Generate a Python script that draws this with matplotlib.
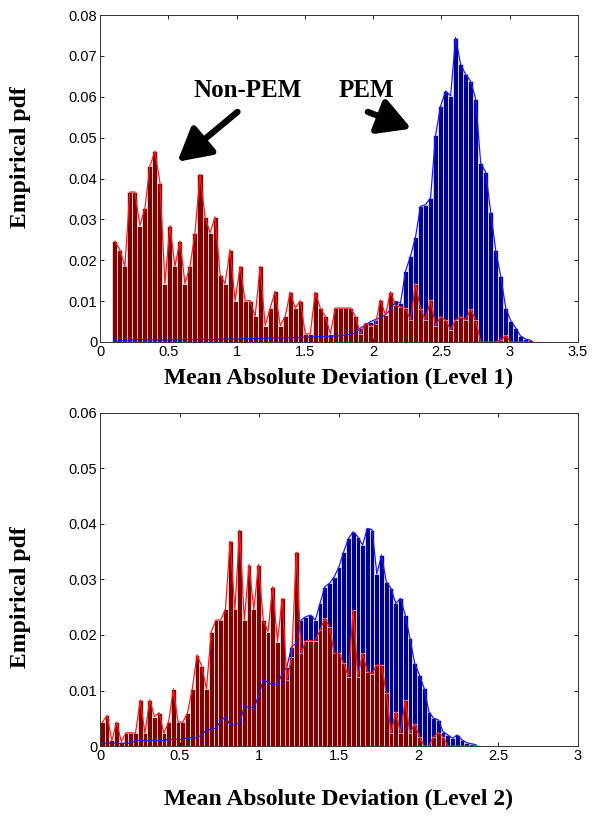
import numpy as np
import matplotlib
matplotlib.use("Agg")
import matplotlib.pyplot as plt

# ---- level 1 histogram (bins of equal width starting at bin1_start) ----
bin1_start = 0.090
bin1_width = 0.0367
nonpem1 = [0.0247, 0.0226, 0.0185, 0.0367, 0.0367, 0.0285, 0.0327, 0.043, 0.0467, 0.039,
           0.0143, 0.0285, 0.0185, 0.0247, 0.0143, 0.0185, 0.0267, 0.041, 0.0306, 0.0267,
           0.0306, 0.0165, 0.0143, 0.0226, 0.0101, 0.0185, 0.0101, 0.0101, 0.0063, 0.0185,
           0.004, 0.0083, 0.0124, 0.004, 0.0063, 0.0122, 0.0083, 0.0101, 0.002, 0.002,
           0.0122, 0.0083, 0.0063, 0.002, 0.0083, 0.0083, 0.0083, 0.0083, 0.0063, 0.002,
           0.0046, 0.0039, 0.0044, 0.0103, 0.0066, 0.0123, 0.009, 0.0086, 0.0084, 0.0053,
           0.0143, 0.008, 0.0054, 0.0103, 0.004, 0.0062, 0.0054, 0.003, 0.0054, 0.0062,
           0.0054, 0.008, 0.0054, 0.0, 0.0, 0.0, 0.0, 0.0005, 0.0016, 0.0,
           0.0, 0.0, 0.0, 0.0]
pem1 = [0.0002, 0.0003, 0.0004, 0.0005, 0.0005, 0.0006, 0.0005, 0.0005, 0.0005, 0.0005,
        0.0005, 0.0005, 0.0005, 0.0005, 0.0005, 0.0006, 0.0006, 0.0006, 0.0006, 0.0006,
        0.0006, 0.0007, 0.0007, 0.0007, 0.0007, 0.0007, 0.0008, 0.0008, 0.0008, 0.0009,
        0.0009, 0.001, 0.001, 0.001, 0.001, 0.001, 0.0011, 0.0011, 0.0012, 0.0012,
        0.0013, 0.0013, 0.0014, 0.0014, 0.0015, 0.0015, 0.0017, 0.0019, 0.0022,
        0.0034, 0.0042, 0.005, 0.0055, 0.0059, 0.0067, 0.0079, 0.01, 0.0095, 0.0173,
        0.021, 0.0257, 0.0332, 0.0336, 0.0353, 0.0506, 0.0577, 0.0614, 0.0602, 0.0745,
        0.0679, 0.0655, 0.0638, 0.0595, 0.0438, 0.0416, 0.0318, 0.0224, 0.0161, 0.0083,
        0.0052, 0.0034, 0.0014, 0.0007, 0.0004]

# ---- level 2 histogram ----
bin2_start = 0.0
bin2_width = 0.0297
nonpem2 = [0.0043, 0.0055, 0.001, 0.0043, 0.0008, 0.0024, 0.0024, 0.0023, 0.0083, 0.0023,
           0.0083, 0.0053, 0.006, 0.0023, 0.0043, 0.0103, 0.0043, 0.0043, 0.006, 0.0103,
           0.0164, 0.0144, 0.0103, 0.0206, 0.0227, 0.0227, 0.0246, 0.0369, 0.0246, 0.0389,
           0.0227, 0.0327, 0.0246, 0.0327, 0.0227, 0.0206, 0.0287, 0.0188, 0.0266, 0.0119,
           0.016, 0.0349, 0.0167, 0.019, 0.019, 0.019, 0.0209, 0.023, 0.0215, 0.0167,
           0.0167, 0.0149, 0.0125, 0.0245, 0.0125, 0.0167, 0.0134, 0.013, 0.0146, 0.0146,
           0.0095, 0.0023, 0.0062, 0.0023, 0.0083, 0.0023, 0.004, 0.0017, 0.0, 0.0,
           0.0017, 0.0024, 0.0017, 0.0, 0.0, 0.0, 0.0, 0.0, 0.0, 0.0]
pem2 = [0.0005, 0.0005, 0.0005, 0.0005, 0.0005, 0.0005, 0.0005, 0.001, 0.001, 0.001,
        0.001, 0.001, 0.001, 0.001, 0.0012, 0.0012, 0.0012, 0.0012, 0.0015, 0.0015,
        0.0015, 0.002, 0.0029, 0.003, 0.0032, 0.0045, 0.0053, 0.0038, 0.0038, 0.0041,
        0.0071, 0.007, 0.0068, 0.009, 0.0119, 0.0115, 0.011, 0.0112, 0.013, 0.0143,
        0.0179, 0.0185, 0.0227, 0.0233, 0.0236, 0.0227, 0.0257, 0.0287, 0.0293, 0.0305,
        0.0323, 0.035, 0.0374, 0.0386, 0.0377, 0.0362, 0.0392, 0.039, 0.031, 0.0344,
        0.0296, 0.0284, 0.0257, 0.0266, 0.0236, 0.0194, 0.0149, 0.0128, 0.0104, 0.0062,
        0.005, 0.0047, 0.0026, 0.002, 0.0014, 0.002, 0.0011, 0.0006, 0.0004, 0.0002]

dark_red = '#800000'
dark_blue = '#000090'
line_red = '#ff1a1a'
line_blue = '#1a1aff'

plt.rcParams['font.family'] = ['Liberation Sans', 'DejaVu Sans']
label_font = dict(family='Liberation Serif', weight='bold')

fig = plt.figure(figsize=(6.01, 8.17), dpi=100)
ax1 = fig.add_axes([0.1664, 0.5814, 0.7953, 0.4002])
ax2 = fig.add_axes([0.1664, 0.0869, 0.7953, 0.4076])


def draw(ax, start, width, red, blue):
    xr = start + width * (np.arange(len(red)) + 0.5)
    xb = start + width * (np.arange(len(blue)) + 0.5)
    ax.bar(xb, blue, width=width, color=dark_blue, edgecolor='white', linewidth=0.45)
    ax.bar(xr, red, width=width, color=dark_red, edgecolor='white', linewidth=0.45)
    ax.plot(xb, blue, color=line_blue, lw=0.9)
    ax.plot(xr, red, color=line_red, lw=0.9)


draw(ax1, bin1_start, bin1_width, nonpem1, pem1)
draw(ax2, bin2_start, bin2_width, nonpem2, pem2)

ax1.set_xlim(0, 3.5)
ax1.set_ylim(0, 0.08)
ax1.set_xticks(np.arange(0, 3.51, 0.5))
ax1.set_xticklabels(['0', '0.5', '1', '1.5', '2', '2.5', '3', '3.5'])
ax1.set_yticks(np.arange(0, 0.081, 0.01))
ax1.set_yticklabels(['0', '0.01', '0.02', '0.03', '0.04', '0.05', '0.06', '0.07', '0.08'])

ax2.set_xlim(0, 3)
ax2.set_ylim(0, 0.06)
ax2.set_xticks(np.arange(0, 3.01, 0.5))
ax2.set_xticklabels(['0', '0.5', '1', '1.5', '2', '2.5', '3'])
ax2.set_yticks(np.arange(0, 0.061, 0.01))
ax2.set_yticklabels(['0', '0.01', '0.02', '0.03', '0.04', '0.05', '0.06'])

for ax in (ax1, ax2):
    ax.tick_params(direction='in', top=True, right=True, length=3, width=0.6,
                   labelsize=10.5, pad=2)
    for s in ax.spines.values():
        s.set_linewidth(0.7)
        s.set_color('#333333')

ax1.text(-0.167, 0.566, 'Empirical pdf', transform=ax1.transAxes, rotation=90,
         ha='center', va='center', fontsize=17, **label_font)
ax1.text(0.5, -0.113, 'Mean Absolute Deviation (Level 1)', transform=ax1.transAxes,
         ha='center', va='center', fontsize=17, **label_font)
ax2.text(-0.167, 0.447, 'Empirical pdf', transform=ax2.transAxes, rotation=90,
         ha='center', va='center', fontsize=17, **label_font)
ax2.text(0.5, -0.16, 'Mean Absolute Deviation (Level 2)', transform=ax2.transAxes,
         ha='center', va='center', fontsize=17, **label_font)

# annotations
ax1.text(1.08, 0.0616, 'Non-PEM', ha='center', va='center', fontsize=18, **label_font)
ax1.text(1.95, 0.0616, 'PEM', ha='center', va='center', fontsize=18, **label_font)
arrow = dict(arrowstyle='-|>,head_length=0.9,head_width=0.5', lw=4.5, color='black',
             shrinkA=0, shrinkB=0, capstyle='round', mutation_scale=22)
ax1.annotate('', xy=(0.567, 0.0441), xytext=(1.007, 0.0563), arrowprops=arrow)
ax1.annotate('', xy=(2.28, 0.0522), xytext=(1.961, 0.0563), arrowprops=arrow)

fig.savefig('out.png', dpi=100)
